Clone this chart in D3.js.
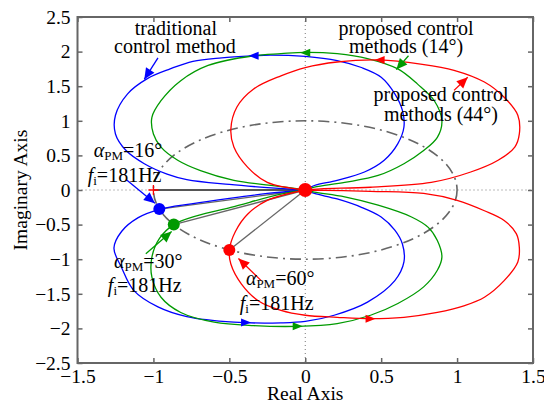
<!DOCTYPE html>
<html>
<head>
<meta charset="utf-8">
<script src="https://cdn.jsdelivr.net/npm/d3@7"></script>
<style>
  body { margin: 0; background: #fff; }
  svg text { font-family: "Liberation Serif", "Times New Roman", serif; }
</style>
</head>
<body>
<div id="chart"></div>
<script>
// ---- data (Real, Imag) ----
const xTicks = [-1.5, -1, -0.5, 0, 0.5, 1, 1.5];
const yTicks = [-2.5, -2, -1.5, -1, -0.5, 0, 0.5, 1, 1.5, 2, 2.5];

const blueUpper = [[0,0],[0.06,0.065],[0.21,0.14],[0.39,0.26],[0.52,0.43],[0.61,0.67],[0.65,0.91],[0.64,1.15],[0.59,1.39],[0.50,1.63],[0.37,1.77],[0.21,1.87],[0,1.93],[-0.23,1.95],[-0.34,1.94],[-0.55,1.91],[-0.74,1.86],[-0.89,1.75],[-1.04,1.61],[-1.17,1.39],[-1.25,1.08],[-1.25,0.81],[-1.18,0.57],[-1.06,0.38],[-0.91,0.23],[-0.78,0.15],[-0.5,0.08],[-0.25,0.035],[0,0]];
const blueLower = [[0,0],[-0.25,-0.05],[-0.5,-0.12],[-0.75,-0.2],[-0.96,-0.28],[-1.1,-0.4],[-1.21,-0.6],[-1.26,-0.84],[-1.21,-1.12],[-1.13,-1.45],[-0.97,-1.69],[-0.78,-1.83],[-0.47,-1.91],[-0.16,-1.92],[0,-1.90],[0.19,-1.81],[0.41,-1.62],[0.59,-1.31],[0.65,-1.04],[0.64,-0.78],[0.59,-0.58],[0.50,-0.39],[0.37,-0.25],[0.21,-0.13],[0.06,-0.05],[0,0]];

const greenUpper = [[0,0],[0.06,0.04],[0.26,0.11],[0.48,0.21],[0.65,0.38],[0.78,0.57],[0.87,0.76],[0.90,1.0],[0.85,1.29],[0.74,1.53],[0.61,1.75],[0.41,1.90],[0.21,1.97],[0,1.99],[-0.16,1.97],[-0.34,1.94],[-0.64,1.80],[-0.82,1.58],[-0.95,1.29],[-1.01,1.05],[-1.0,0.81],[-0.95,0.62],[-0.84,0.43],[-0.69,0.28],[-0.47,0.14],[-0.16,0.05],[0,0]];
const greenLower = [[0,0],[-0.16,-0.06],[-0.49,-0.25],[-0.71,-0.37],[-0.866,-0.5],[-0.96,-0.7],[-1.01,-0.97],[-1.01,-1.26],[-0.95,-1.55],[-0.82,-1.77],[-0.60,-1.91],[-0.34,-1.96],[-0.05,-1.97],[0.21,-1.93],[0.43,-1.81],[0.61,-1.64],[0.78,-1.40],[0.87,-1.16],[0.90,-0.97],[0.87,-0.73],[0.81,-0.54],[0.70,-0.39],[0.48,-0.22],[0.26,-0.10],[0.06,-0.03],[0,0]];

const redUpper = [[0,0],[0.10,0.017],[0.43,0.04],[0.83,0.11],[1.09,0.26],[1.27,0.43],[1.38,0.62],[1.41,0.81],[1.40,1.08],[1.31,1.34],[1.18,1.56],[0.98,1.73],[0.76,1.82],[0.49,1.88],[0.21,1.85],[0,1.77],[-0.16,1.65],[-0.34,1.46],[-0.45,1.20],[-0.49,0.88],[-0.47,0.62],[-0.38,0.33],[-0.25,0.11],[0,0]];
const redLower = [[0,0],[-0.25,-0.15],[-0.38,-0.35],[-0.46,-0.6],[-0.5,-0.866],[-0.49,-1.07],[-0.42,-1.36],[-0.31,-1.60],[-0.16,-1.74],[0,-1.81],[0.21,-1.84],[0.43,-1.86],[0.65,-1.84],[0.87,-1.77],[1.05,-1.67],[1.18,-1.55],[1.31,-1.31],[1.40,-1.04],[1.41,-0.83],[1.39,-0.63],[1.31,-0.44],[1.18,-0.30],[1.0,-0.15],[0.78,-0.05],[0.43,-0.02],[0,0]];

// phase margin points on unit circle
const pmPoints = [
  { name: "blue",  x: -0.961, y: -0.276 },
  { name: "green", x: -0.866, y: -0.5 },
  { name: "red",   x: -0.5,   y: -0.866 }
];

// direction arrows on curves: [color, x, y, dir]  (dir -1 = pointing left, 1 = right)
const curveArrows = [
  ["blue", -0.34, 1.94, -1], ["green", 0.0, 1.985, -1], ["red", 0.49, 1.88, -1],
  ["blue", -0.39, -1.915, 1], ["green", -0.05, -1.97, 1], ["red", 0.43, -1.86, 1]
];

const colors = { blue: "#0000ff", green: "#009a00", red: "#ff0000" };
const serif = '"Liberation Serif", "Times New Roman", serif';

// ---- chart ----
const W = 544, H = 403;
const margin = { top: 17, right: 11, bottom: 40, left: 77.5 };

const svg = d3.select("#chart").append("svg")
  .attr("width", W)
  .attr("height", H)
  .style("font-family", serif);

const x = d3.scaleLinear().domain([-1.5, 1.5]).range([margin.left, W - margin.right]);
const y = d3.scaleLinear().domain([-2.5, 2.5]).range([H - margin.bottom, margin.top]);

const fmt = d3.format("~g");

// zero grid lines
svg.append("line")
  .attr("x1", x(0)).attr("x2", x(0)).attr("y1", y(2.5)).attr("y2", y(-2.5))
  .attr("stroke", "#777").attr("stroke-width", 1).attr("stroke-dasharray", "1,3");
svg.append("line")
  .attr("x1", x(-1.5)).attr("x2", x(1.5)).attr("y1", y(0)).attr("y2", y(0))
  .attr("stroke", "#777").attr("stroke-width", 1).attr("stroke-dasharray", "1,3");

// axes
const gx = svg.append("g")
  .attr("transform", `translate(0,${y(-2.5)})`)
  .call(d3.axisBottom(x).tickValues(xTicks).tickFormat(fmt).tickSize(-5).tickPadding(4));
const gy = svg.append("g")
  .attr("transform", `translate(${x(-1.5)},0)`)
  .call(d3.axisLeft(y).tickValues(yTicks).tickFormat(fmt).tickSize(-5).tickPadding(7));
const gt = svg.append("g")
  .attr("transform", `translate(0,${y(2.5)})`)
  .call(d3.axisTop(x).tickValues(xTicks).tickFormat("").tickSize(-5));
const gr = svg.append("g")
  .attr("transform", `translate(${x(1.5)},0)`)
  .call(d3.axisRight(y).tickValues(yTicks).tickFormat("").tickSize(-5));

[gx, gy, gt, gr].forEach(g => {
  g.attr("font-family", null).attr("font-size", null);
  g.select(".domain").remove();
  g.selectAll(".tick line").attr("stroke", "#666").attr("stroke-width", 1.5);
  g.selectAll("text")
    .style("font-family", serif)
    .style("font-size", "19.5px")
    .attr("fill", "#000");
});
gx.selectAll("text").attr("dy", "0.82em");

svg.append("rect")
  .attr("x", x(-1.5)).attr("y", y(2.5))
  .attr("width", x(1.5) - x(-1.5)).attr("height", y(-2.5) - y(2.5))
  .attr("fill", "none").attr("stroke", "#666").attr("stroke-width", 2);

// axis titles
svg.append("text")
  .attr("x", (x(-1.5) + x(1.5)) / 2).attr("y", 400)
  .attr("text-anchor", "middle").attr("font-size", 19.5)
  .text("Real Axis");
svg.append("text")
  .attr("transform", `translate(27,${y(0)}) rotate(-90)`)
  .attr("text-anchor", "middle").attr("font-size", 19.5)
  .text("Imaginary Axis");

// unit circle (dash-dot)
svg.append("ellipse")
  .attr("cx", x(0)).attr("cy", y(0))
  .attr("rx", x(1) - x(0)).attr("ry", y(0) - y(1))
  .attr("fill", "none").attr("stroke", "#666").attr("stroke-width", 1.6)
  .attr("stroke-dasharray", "11,5,2,5");

// gray lines from origin
svg.append("line")
  .attr("x1", x(-1)).attr("y1", y(0)).attr("x2", x(0)).attr("y2", y(0))
  .attr("stroke", "#555").attr("stroke-width", 2);
svg.selectAll(".pmline")
  .data(pmPoints)
  .enter()
  .append("line")
  .attr("x1", x(0)).attr("y1", y(0))
  .attr("x2", d => x(d.x)).attr("y2", d => y(d.y))
  .attr("stroke", "#666").attr("stroke-width", 1.3);

// nyquist curves
const line = d3.line().x(d => x(d[0])).y(d => y(d[1])).curve(d3.curveCatmullRom.alpha(0.5));
const curves = [
  ["blue", blueUpper], ["blue", blueLower],
  ["green", greenUpper], ["green", greenLower],
  ["red", redUpper], ["red", redLower]
];
svg.selectAll(".curve")
  .data(curves)
  .enter()
  .append("path")
  .attr("d", d => line(d[1]))
  .attr("fill", "none")
  .attr("stroke", d => colors[d[0]])
  .attr("stroke-width", 1.3);

// curve direction arrows
svg.selectAll(".carrow")
  .data(curveArrows)
  .enter()
  .append("path")
  .attr("d", "M5,0 L-5,-4 L-5,4 Z")
  .attr("transform", d => `translate(${x(d[1])},${y(d[2])}) scale(${d[3]},1)`)
  .attr("fill", d => colors[d[0]]);

// -1 cross
svg.append("path")
  .attr("d", `M${x(-1) - 5},${y(0)}H${x(-1) + 5}M${x(-1)},${y(0) - 5}V${y(0) + 5}`)
  .attr("stroke", "#ff0000").attr("stroke-width", 1.3);

// phase margin dots
svg.selectAll(".pmdot")
  .data(pmPoints)
  .enter()
  .append("circle")
  .attr("cx", d => x(d.x)).attr("cy", d => y(d.y))
  .attr("r", 6)
  .attr("fill", d => colors[d.name]);
svg.append("circle")
  .attr("cx", x(0)).attr("cy", y(0)).attr("r", 7)
  .attr("fill", "#ff0000");

// annotation arrows: [color, x0, y0, x1(tip), y1(tip)]
const notes = [
  ["blue", -0.97, 1.91, -1.06, 1.60],
  ["green", 0.68, 1.94, 0.60, 1.74],
  ["red", 0.98, 1.44, 1.07, 1.63],
  ["blue", -1.18, 0.15, -0.99, -0.19],
  ["green", -1.05, -0.92, -0.88, -0.6],
  ["red", -0.29, -1.31, -0.44, -0.99]
];
notes.forEach(n => {
  const x0 = x(n[1]), y0 = y(n[2]), x1 = x(n[3]), y1 = y(n[4]);
  const a = Math.atan2(y1 - y0, x1 - x0) * 180 / Math.PI;
  svg.append("line")
    .attr("x1", x0).attr("y1", y0).attr("x2", x1).attr("y2", y1)
    .attr("stroke", colors[n[0]]).attr("stroke-width", 1.3);
  svg.append("path")
    .attr("d", "M0,0 L-11,-5 L-11,5 Z")
    .attr("transform", `translate(${x1},${y1}) rotate(${a})`)
    .attr("fill", colors[n[0]]);
});

// annotation texts
const plainNotes = [
  ["traditional", -0.852, 2.247],
  ["control method", -0.859, 1.973],
  ["proposed control", 0.664, 2.247],
  ["methods (14°)", 0.664, 1.973],
  ["proposed control", 0.894, 1.293],
  ["methods (44°)", 0.894, 1.004]
];
svg.selectAll(".note")
  .data(plainNotes)
  .enter()
  .append("text")
  .attr("x", d => x(d[1])).attr("y", d => y(d[2]))
  .attr("text-anchor", "middle")
  .attr("font-size", 20)
  .text(d => d[0]);

// alpha / f labels: [angle, x, y]
const pmLabels = [
  ["16°", -1.393, 0.47],
  ["30°", -1.26, -1.12],
  ["60°", -0.391, -1.38]
];
pmLabels.forEach(p => {
  const t1 = svg.append("text").attr("x", x(p[1])).attr("y", y(p[2])).attr("font-size", 20);
  t1.append("tspan").attr("font-style", "italic").text("α");
  t1.append("tspan").attr("font-size", 13).attr("dy", 3).text("PM");
  t1.append("tspan").attr("dy", -3).text("=" + p[0]);
  const t2 = svg.append("text").attr("x", x(p[1] - 0.04)).attr("y", y(p[2] - 0.355)).attr("font-size", 20);
  t2.append("tspan").attr("font-style", "italic").text("f");
  t2.append("tspan").attr("font-size", 13).attr("dy", 3).text("i");
  t2.append("tspan").attr("dy", -3).text("=181Hz");
});
</script>
</body>
</html>
